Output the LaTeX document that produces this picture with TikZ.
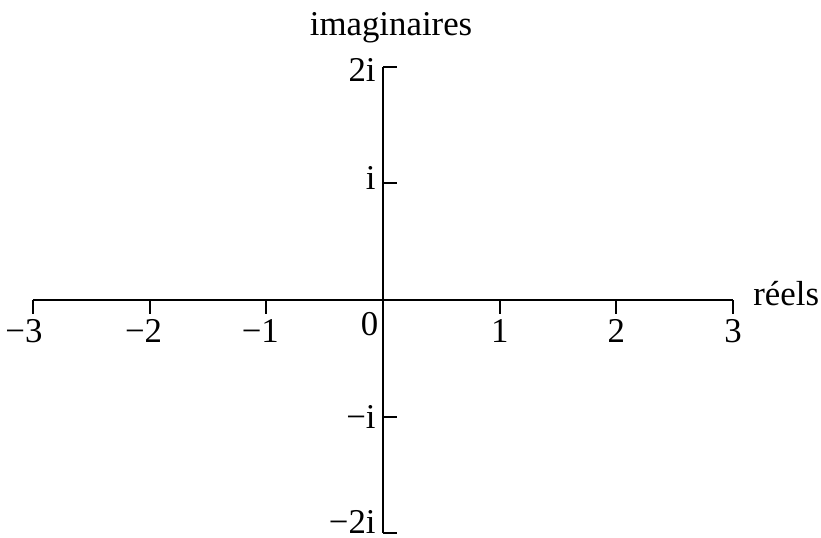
\documentclass[tikz,border=0pt]{standalone}
\usepackage{fontspec}
\setmainfont{Liberation Serif}
\begin{document}
\begin{tikzpicture}[x=58.35pt,y=58.35pt,
  axis/.style={line width=1pt},
  lbl/.style={inner sep=0pt,font=\fontsize{17.4}{20}\selectfont},
  hlbl/.style={lbl,anchor=base},
  vlbl/.style={lbl,anchor=base east}]
\useasboundingbox (-3.282,-2.039) rectangle (3.753,2.571);
\coordinate (xl) at (-3,0);
\coordinate (xr) at (3,0);
\coordinate (yt) at (0,2);
\coordinate (yb) at (0,-2);
\draw[axis] (xl) -- (xr);
\draw[axis] (yt) -- (yb);
\foreach \x in {-3,-2,-1,1,2,3} \draw[axis] (\x,0) -- (\x,-0.12);
\foreach \y in {-2,-1,1,2} \draw[axis] (0,\y) -- (0.12,\y);
\node[hlbl,xshift=-4.5pt] (lm3) at (-3,-0.368) {−3};
\node[hlbl,xshift=-3pt] (lm2) at (-2,-0.368) {−2};
\node[hlbl,xshift=-3pt] (lm1) at (-1,-0.368) {−1};
\node[hlbl] (lp1) at (1,-0.368) {1};
\node[hlbl] (lp2) at (2,-0.368) {2};
\node[hlbl] (lp3) at (3,-0.368) {3};
\node[hlbl] (l0) at (-0.116,-0.30) {0};
\node[vlbl] (l2i) at (-0.06,1.871) {2i};
\node[vlbl] (l1i) at (-0.06,0.943) {i};
\node[vlbl] (lm1i) at (-0.06,-1.105) {−i};
\node[vlbl] (lm2i) at (-0.06,-1.997) {−2i};
\node[lbl,anchor=base west] (re) at (3.17,-0.05) {réels};
\node[hlbl] (im) at (0.069,2.271) {imaginaires};
\end{tikzpicture}
\end{document}
